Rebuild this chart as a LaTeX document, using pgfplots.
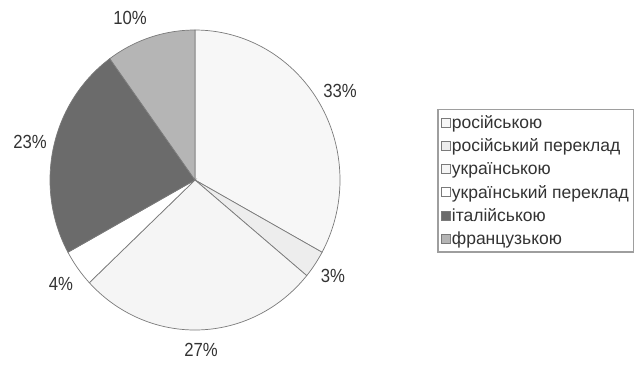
\documentclass[border=0pt]{standalone}
\usepackage{fontspec}
\setmainfont{Liberation Sans}
\usepackage{pgfplots}
\pgfplotsset{compat=1.18}

\definecolor{sRus}{HTML}{F7F7F7}
\definecolor{sRusTr}{HTML}{EDEDED}
\definecolor{sUkr}{HTML}{F5F5F5}
\definecolor{sUkrTr}{HTML}{FFFFFF}
\definecolor{sIta}{HTML}{6B6B6B}
\definecolor{sFra}{HTML}{B5B5B5}
\definecolor{edge}{HTML}{7A7A7A}
\definecolor{txt}{HTML}{333333}

% shares in percent, clockwise from 12 o'clock
\def\vA{33}\def\vB{3}\def\vC{27}\def\vD{4}\def\vE{23}\def\vF{10}
\pgfmathsetmacro\tA{90}
\pgfmathsetmacro\tB{\tA-3.6*\vA}
\pgfmathsetmacro\tC{\tB-3.6*\vB}
\pgfmathsetmacro\tD{\tC-3.6*\vC}
\pgfmathsetmacro\tE{\tD-3.6*\vD}
\pgfmathsetmacro\tF{\tE-3.6*\vE}
\pgfmathsetmacro\tG{\tF-3.6*\vF}

% pie centre and radii (axis units)
\def\cx{195}\def\cy{180}\def\rx{145}\def\ry{150}

\newcommand{\slice}[3]{%
  \addplot[fill=#3, draw=edge, line width=0.7pt, domain=#2:#1, samples=90, variable=\t]
    ({\cx+\rx*cos(\t)},{\cy-\ry*sin(\t)}) -- (\cx,\cy) -- cycle;}

\begin{document}
\begin{tikzpicture}
\begin{axis}[
  scale only axis, width=639pt, height=365pt,
  xmin=0, xmax=639, ymin=0, ymax=365, y dir=reverse,
  hide axis, clip=false,
  legend cell align=left,
  legend image code/.code={\draw[#1, line width=0.6pt] (0pt,-4.5pt) rectangle (9pt,4.5pt);},
  legend style={at={(0.6839,0.7014)}, anchor=north west,
    draw=black!38, line width=1.5pt, text=txt,
    font=\fontsize{17.5}{20}\selectfont,
    inner xsep=3pt, inner ysep=5pt, row sep=8.1pt,
    nodes={inner xsep=1.5pt, inner ysep=0.5pt}},
]
\addplot[draw=none, forget plot] coordinates {(0,0) (639,365)};

\slice{\tA}{\tB}{sRus}   \addlegendentry{російською}
\slice{\tB}{\tC}{sRusTr} \addlegendentry{російський переклад}
\slice{\tC}{\tD}{sUkr}   \addlegendentry{українською}
\slice{\tD}{\tE}{sUkrTr} \addlegendentry{український переклад}
\slice{\tE}{\tF}{sIta}   \addlegendentry{італійською}
\slice{\tF}{\tG}{sFra}   \addlegendentry{французькою}

\begin{scope}[every node/.style={font=\fontsize{19}{22}\selectfont, text=txt, xscale=0.88}]
\node at (340,91) {33\%};
\node at (333,276) {3\%};
\node at (201,350) {27\%};
\node at (61,284) {4\%};
\node at (30,142) {23\%};
\node at (130,18) {10\%};
\end{scope}
\end{axis}
\end{tikzpicture}
\end{document}
